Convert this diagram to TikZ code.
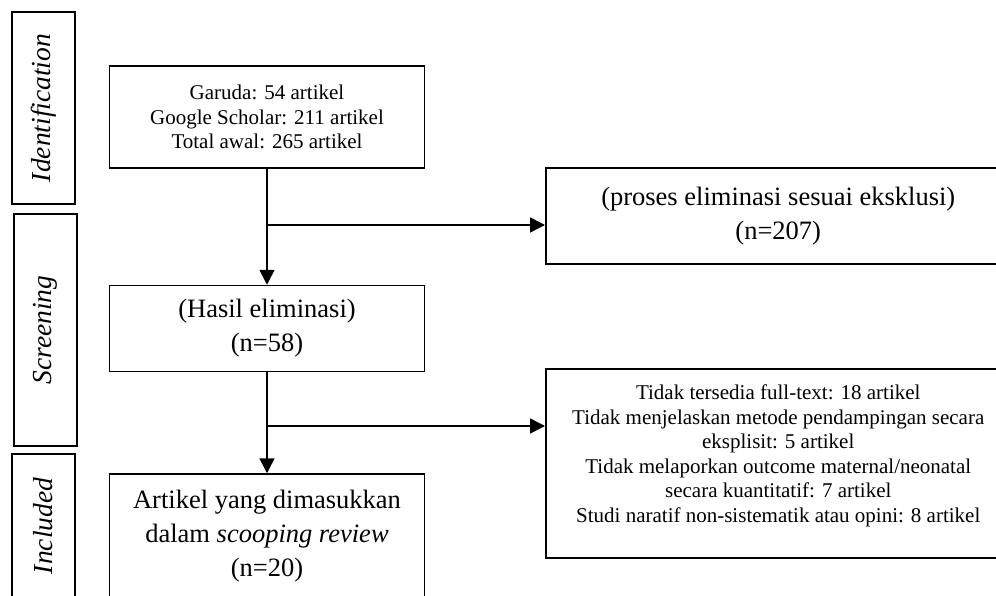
\documentclass[tikz,border=0pt]{standalone}
\usepackage{fontspec}
\setmainfont{Liberation Serif}
\usepackage{tikz}
\usetikzlibrary{arrows.meta, positioning, calc}

\begin{document}
\begin{tikzpicture}[
    x=1pt, y=1pt,
    node distance=100pt and 120pt,
    box/.style={rectangle, draw, line width=1.5pt, minimum width=315pt, align=center, inner sep=4pt},
    bigtext/.style={font=\fontsize{26.5}{34}\selectfont},
    smalltext/.style={font=\fontsize{21}{24.5}\selectfont},
    stage/.style={rectangle, draw, line width=1.5pt, rotate=90, minimum height=63pt, font=\fontsize{27.5}{30}\selectfont\itshape},
    excl/.style={box, minimum width=465pt, anchor=west},
    arrow/.style={-{Triangle[length=15pt,width=15pt]}, line width=1.5pt}
]
\useasboundingbox (0,0) rectangle (996,-596);
\clip (0,0) rectangle (996,-596);

% Tahapan
\node[stage, minimum width=192pt] (ident) at (43.5,-108) {Identification};
\node[stage, minimum width=232pt] (screen) at (45.5,-330) {Screening};
\node[stage, minimum width=144pt] (incl) at (43.5,-526) {Included};

% Alur utama
\node[box, smalltext, minimum height=102pt] (search) at (267,-117) {Garuda: 54 artikel\\Google Scholar: 211 artikel\\Total awal: 265 artikel};
\node[box, bigtext, minimum height=86pt, below=116pt of search] (hasil) {(Hasil eliminasi)\\(n=58)};
\node[box, bigtext, minimum height=124pt, below=101pt of hasil] (artikel) {Artikel yang dimasukkan\\dalam \textit{scooping review}\\(n=20)};

% Eksklusi
\node[excl, bigtext, minimum height=96pt] (excl1) at (545,-216) {(proses eliminasi sesuai eksklusi)\\(n=207)};
\node[excl, smalltext, minimum height=189pt] (excl2) at (545,-463.5) {Tidak tersedia full-text: 18 artikel\\Tidak menjelaskan metode pendampingan secara\\eksplisit: 5 artikel\\Tidak melaporkan outcome maternal/neonatal\\secara kuantitatif: 7 artikel\\Studi naratif non-sistematik atau opini: 8 artikel\\[-4.5pt]};

% Panah
\coordinate (split1) at (search.south |- 0,-225);
\coordinate (split2) at (hasil.south |- 0,-426);
\draw[arrow] (search) -- (hasil);
\draw[arrow] (hasil) -- (artikel);
\draw[arrow] (split1) -- (split1 -| excl1.west);
\draw[arrow] (split2) -- (split2 -| excl2.west);

\end{tikzpicture}
\end{document}
